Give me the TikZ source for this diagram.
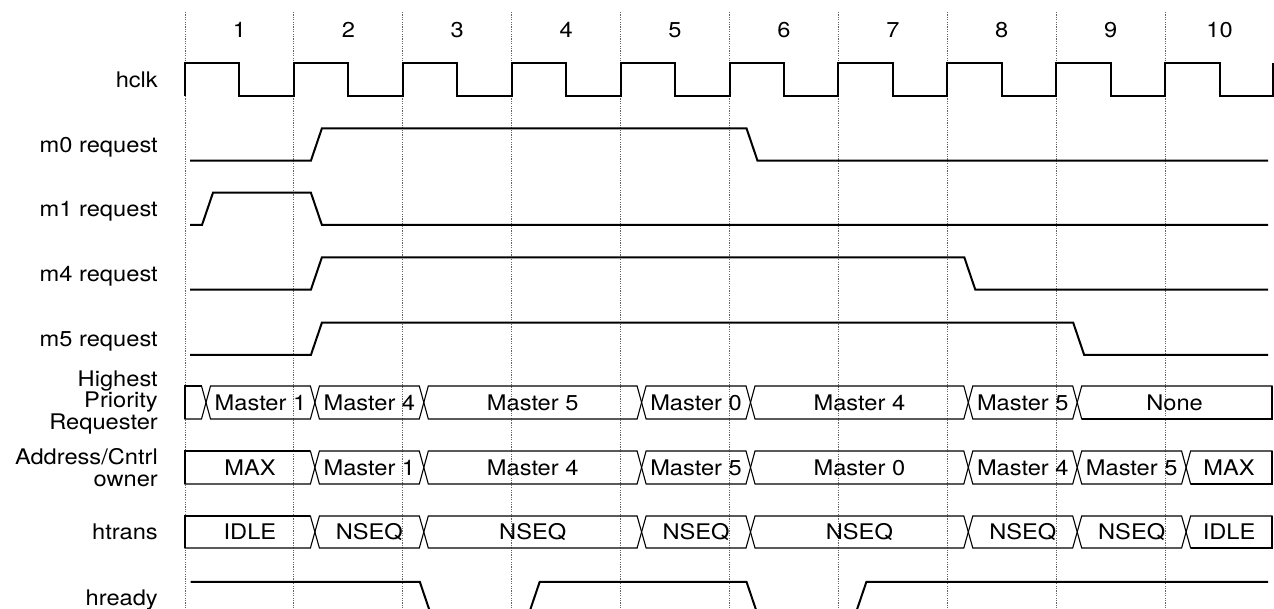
\documentclass[tikz,border=0pt]{standalone}
\usepackage{fontspec}
\setmainfont{TeX Gyre Heros}
\usepackage{graphicx}
\newcommand\stx[1]{\scalebox{1.1}[1]{#1}}
\tikzset{
 sig/.style={line width=2pt, line join=miter},
 bus/.style={line width=1.1pt, line join=miter},
 busedge/.style={line width=2.2pt, line join=miter},
 gridline/.style={black!60, line width=0.9pt, dash pattern=on 1.2pt off 1.2pt},
 txt/.style={font=\fontsize{21.5}{21.5}\selectfont, inner sep=0pt},
}
\newcommand\segmid[6]{%
  \draw[bus] ({#2+4.5},#4) -- ({#3-4.5},#4) -- (#3,{(#4+#5)/2}) -- ({#3-4.5},#5) -- ({#2+4.5},#5) -- (#2,{(#4+#5)/2}) -- cycle;
  \node[txt,anchor=base] (#1) at ({(#2+#3)/2},{(#4+#5)/2+7.7}) {\stx{#6}};}
\newcommand\segfirst[6]{%
  \draw[bus] (#2,#4) -- ({#3-4.5},#4) -- (#3,{(#4+#5)/2}) -- ({#3-4.5},#5) -- (#2,#5) -- cycle;
  \draw[busedge] ({#3-4.5},#4) -- (#2,#4) -- (#2,#5);
  \node[txt,anchor=base] (#1) at ({(#2+#3)/2},{(#4+#5)/2+7.7}) {\stx{#6}};}
\newcommand\seglast[6]{%
  \draw[bus] ({#2+4.5},#4) -- (#3,#4) -- (#3,#5) -- ({#2+4.5},#5) -- (#2,{(#4+#5)/2}) -- cycle;
  \draw[busedge] ({#2+4.5},#5) -- (#3,#5) -- (#3,#4);
  \node[txt,anchor=base] (#1) at ({(#2+#3)/2},{(#4+#5)/2+7.7}) {\stx{#6}};}
\begin{document}
\begin{tikzpicture}[x=1pt,y=-1pt]
\useasboundingbox (0,0) rectangle (1274,609);
\clip (0,0) rectangle (1274,609);
% grid lines and cycle numbers
\foreach \k in {1,...,10}{
  \pgfmathsetmacro\gx{185+(\k-1)*108.9}
  \draw[gridline] (\gx,12) -- (\gx,609);
  \node[txt,anchor=base] (num\k) at ({\gx+54.45},37.5) {\stx{\k}};
}
% labels
\node[txt,anchor=base east] (lhclk) at (158,87.2) {\stx{hclk}};
\node[txt,anchor=base east] (lm0) at (158,152.2) {\stx{m0 request}};
\node[txt,anchor=base east] (lm1) at (158,216.6) {\stx{m1 request}};
\node[txt,anchor=base east] (lm4) at (158,281.2) {\stx{m4 request}};
\node[txt,anchor=base east] (lm5) at (158,346.6) {\stx{m5 request}};
\node[txt,anchor=east,align=right] (lhp) at (158,402.5) {\stx{Highest}\\\stx{Priority}\\\stx{Requester}};
\node[txt,anchor=east,align=right] (laddr) at (158,467.5) {\stx{Address/Cntrl}\\\stx{owner}};
\node[txt,anchor=base east] (lhtrans) at (158,539.7) {\stx{htrans}};
\node[txt,anchor=base east] (lhready) at (158,605) {\stx{hready}};
% clock
\draw[sig] (185,95.7) \foreach \k in {0,...,9}{ -- ({185+\k*108.9},63.3) -- ({239.45+\k*108.9},63.3) -- ({239.45+\k*108.9},95.7) -- ({293.9+\k*108.9},95.7) } -- (1273,95.7) -- (1273,63.3);
% requests
\draw[sig] (190,160.7) -- (310.9,160.7) -- (321.9,128.3) -- (746.5,128.3) -- (757.5,160.7) -- (1268,160.7);
\draw[sig] (190,225) -- (202,225) -- (213,192.7) -- (310.9,192.7) -- (321.9,225) -- (1268,225);
\draw[sig] (190,289.7) -- (310.9,289.7) -- (321.9,257.3) -- (964.3,257.3) -- (975.3,289.7) -- (1268,289.7);
\draw[sig] (190,355) -- (310.9,355) -- (321.9,322.7) -- (1073.2,322.7) -- (1084.2,355) -- (1268,355);
% highest priority requester
\segfirst{hp0}{185}{206}{386}{419}{}
\segmid{hp1}{206}{314.9}{386}{419}{Master 1}
\segmid{hp2}{314.9}{423.8}{386}{419}{Master 4}
\segmid{hp3}{423.8}{641.6}{386}{419}{Master 5}
\segmid{hp4}{641.6}{750.5}{386}{419}{Master 0}
\segmid{hp5}{750.5}{968.3}{386}{419}{Master 4}
\segmid{hp6}{968.3}{1077.2}{386}{419}{Master 5}
\seglast{hp7}{1077.2}{1272}{386}{419}{None}
% address/control owner
\segfirst{ad0}{185}{314.9}{451}{484}{MAX}
\segmid{ad1}{314.9}{423.8}{451}{484}{Master 1}
\segmid{ad2}{423.8}{641.6}{451}{484}{Master 4}
\segmid{ad3}{641.6}{750.5}{451}{484}{Master 5}
\segmid{ad4}{750.5}{968.3}{451}{484}{Master 0}
\segmid{ad5}{968.3}{1077.2}{451}{484}{Master 4}
\segmid{ad6}{1077.2}{1186.1}{451}{484}{Master 5}
\seglast{ad7}{1186.1}{1272}{451}{484}{MAX}
% htrans
\segfirst{ht0}{185}{314.9}{516}{548}{IDLE}
\segmid{ht1}{314.9}{423.8}{516}{548}{NSEQ}
\segmid{ht2}{423.8}{641.6}{516}{548}{NSEQ}
\segmid{ht3}{641.6}{750.5}{516}{548}{NSEQ}
\segmid{ht4}{750.5}{968.3}{516}{548}{NSEQ}
\segmid{ht5}{968.3}{1077.2}{516}{548}{NSEQ}
\segmid{ht6}{1077.2}{1186.1}{516}{548}{NSEQ}
\seglast{ht7}{1186.1}{1272}{516}{548}{IDLE}
% hready
\draw[sig] (190.5,581.8) -- (419.8,581.8) -- (430.8,614.2) -- (528.7,614.2) -- (539.7,581.8) -- (746.5,581.8) -- (757.5,614.2) -- (855.4,614.2) -- (866.4,581.8) -- (1268,581.8);
\end{tikzpicture}
\end{document}
